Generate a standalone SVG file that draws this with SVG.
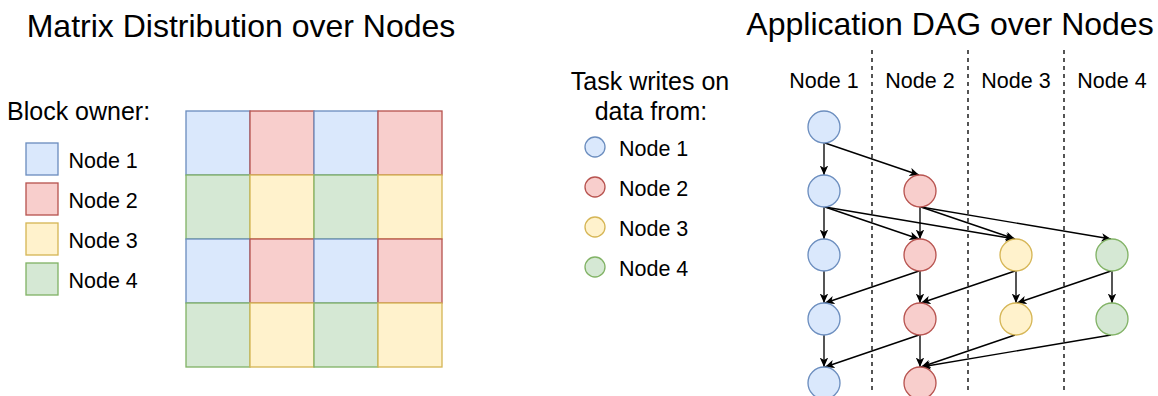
<svg xmlns="http://www.w3.org/2000/svg" width="1158" height="396" viewBox="0 0 1158 396">
<defs>
<style>
text{font-family:"Liberation Sans",Arial,sans-serif;fill:#000}
.title{font-size:32px;text-anchor:middle}
.lbl{font-size:21.5px}
.hdr{font-size:25px}
.mid{text-anchor:middle}
.b{fill:#dae8fc;stroke:#6c8ebf;stroke-width:1.33}
.r{fill:#f8cecc;stroke:#b85450;stroke-width:1.33}
.y{fill:#fff2cc;stroke:#d6b656;stroke-width:1.33}
.g{fill:#d5e8d4;stroke:#82b366;stroke-width:1.33}
.dash{stroke:#000;stroke-width:1.33;stroke-dasharray:4 4;fill:none}
.e{stroke:#000;stroke-width:1.33;fill:none;marker-end:url(#arr)}
</style>
<marker id="arr" markerUnits="userSpaceOnUse" markerWidth="11" markerHeight="10" refX="9.5" refY="4.25" orient="auto">
<path d="M0,0 L9.5,4.25 L0,8.5 L2.5,4.25 Z" fill="#000"/>
</marker>
</defs>

<g id="title-matrix"><text class="title" x="241" y="36.5">Matrix Distribution over Nodes</text></g>
<g id="title-dag"><text class="title" x="950" y="34.5">Application DAG over Nodes</text></g>

<g id="legend-blocks">
<text class="hdr" x="7" y="120">Block owner:</text>
<rect class="b" x="26" y="143" width="32" height="32"/>
<text class="lbl" x="68.5" y="167.5">Node 1</text>
<rect class="r" x="26" y="183" width="32" height="32"/>
<text class="lbl" x="68.5" y="207.5">Node 2</text>
<rect class="y" x="26" y="223" width="32" height="32"/>
<text class="lbl" x="68.5" y="247.5">Node 3</text>
<rect class="g" x="26" y="263" width="32" height="32"/>
<text class="lbl" x="68.5" y="287.5">Node 4</text>
</g>

<g id="matrix">
<rect class="b" x="186" y="111" width="64" height="64"/>
<rect class="r" x="250" y="111" width="64" height="64"/>
<rect class="b" x="314" y="111" width="64" height="64"/>
<rect class="r" x="378" y="111" width="64" height="64"/>
<rect class="g" x="186" y="175" width="64" height="64"/>
<rect class="y" x="250" y="175" width="64" height="64"/>
<rect class="g" x="314" y="175" width="64" height="64"/>
<rect class="y" x="378" y="175" width="64" height="64"/>
<rect class="b" x="186" y="239" width="64" height="64"/>
<rect class="r" x="250" y="239" width="64" height="64"/>
<rect class="b" x="314" y="239" width="64" height="64"/>
<rect class="r" x="378" y="239" width="64" height="64"/>
<rect class="g" x="186" y="303" width="64" height="64"/>
<rect class="y" x="250" y="303" width="64" height="64"/>
<rect class="g" x="314" y="303" width="64" height="64"/>
<rect class="y" x="378" y="303" width="64" height="64"/>
</g>

<g id="legend-tasks">
<text class="hdr mid" x="650" y="89.5">Task writes on</text>
<text class="hdr mid" x="651" y="120">data from:</text>
<circle class="b" cx="595" cy="147" r="10"/>
<text class="lbl" x="619" y="155.5">Node 1</text>
<circle class="r" cx="595" cy="187" r="10"/>
<text class="lbl" x="619" y="195.5">Node 2</text>
<circle class="y" cx="595" cy="227" r="10"/>
<text class="lbl" x="619" y="235.5">Node 3</text>
<circle class="g" cx="595" cy="267" r="10"/>
<text class="lbl" x="619" y="275.5">Node 4</text>
</g>

<g id="columns">
<line class="dash" x1="872" y1="50" x2="872" y2="392"/>
<line class="dash" x1="968" y1="50" x2="968" y2="392"/>
<line class="dash" x1="1064" y1="50" x2="1064" y2="392"/>
<text class="lbl mid" x="824" y="87.5">Node 1</text>
<text class="lbl mid" x="920" y="87.5">Node 2</text>
<text class="lbl mid" x="1016" y="87.5">Node 3</text>
<text class="lbl mid" x="1112" y="87.5">Node 4</text>
</g>

<g id="connectors">
<line class="e" x1="824" y1="143" x2="824" y2="175"/>
<line class="e" x1="825" y1="143" x2="919" y2="175"/>
<line class="e" x1="824" y1="207" x2="824" y2="239"/>
<line class="e" x1="825" y1="207" x2="919" y2="239"/>
<line class="e" x1="825" y1="207" x2="1015" y2="239"/>
<line class="e" x1="920" y1="207" x2="920" y2="239"/>
<line class="e" x1="921" y1="207" x2="1015" y2="239"/>
<line class="e" x1="921" y1="207" x2="1111" y2="239"/>
<line class="e" x1="824" y1="271" x2="824" y2="303"/>
<line class="e" x1="919" y1="271" x2="825" y2="303"/>
<line class="e" x1="920" y1="271" x2="920" y2="303"/>
<line class="e" x1="1015" y1="271" x2="921" y2="303"/>
<line class="e" x1="1016" y1="271" x2="1016" y2="303"/>
<line class="e" x1="1111" y1="271" x2="1017" y2="303"/>
<line class="e" x1="1112" y1="271" x2="1112" y2="303"/>
<line class="e" x1="824" y1="335" x2="824" y2="367"/>
<line class="e" x1="919" y1="335" x2="825" y2="367"/>
<line class="e" x1="920" y1="335" x2="920" y2="367"/>
<line class="e" x1="1015" y1="335" x2="921" y2="367"/>
<line class="e" x1="1111" y1="335" x2="921" y2="367"/>
</g>

<g id="task-a1"><circle class="b" cx="824" cy="127" r="16"/></g>
<g id="task-b1"><circle class="b" cx="824" cy="191" r="16"/></g>
<g id="task-b2"><circle class="r" cx="920" cy="191" r="16"/></g>
<g id="task-c1"><circle class="b" cx="824" cy="255" r="16"/></g>
<g id="task-c2"><circle class="r" cx="920" cy="255" r="16"/></g>
<g id="task-c3"><circle class="y" cx="1016" cy="255" r="16"/></g>
<g id="task-c4"><circle class="g" cx="1112" cy="255" r="16"/></g>
<g id="task-d1"><circle class="b" cx="824" cy="319" r="16"/></g>
<g id="task-d2"><circle class="r" cx="920" cy="319" r="16"/></g>
<g id="task-d3"><circle class="y" cx="1016" cy="319" r="16"/></g>
<g id="task-d4"><circle class="g" cx="1112" cy="319" r="16"/></g>
<g id="task-e1"><circle class="b" cx="824" cy="383" r="16"/></g>
<g id="task-e2"><circle class="r" cx="920" cy="383" r="16"/></g>
</svg>
